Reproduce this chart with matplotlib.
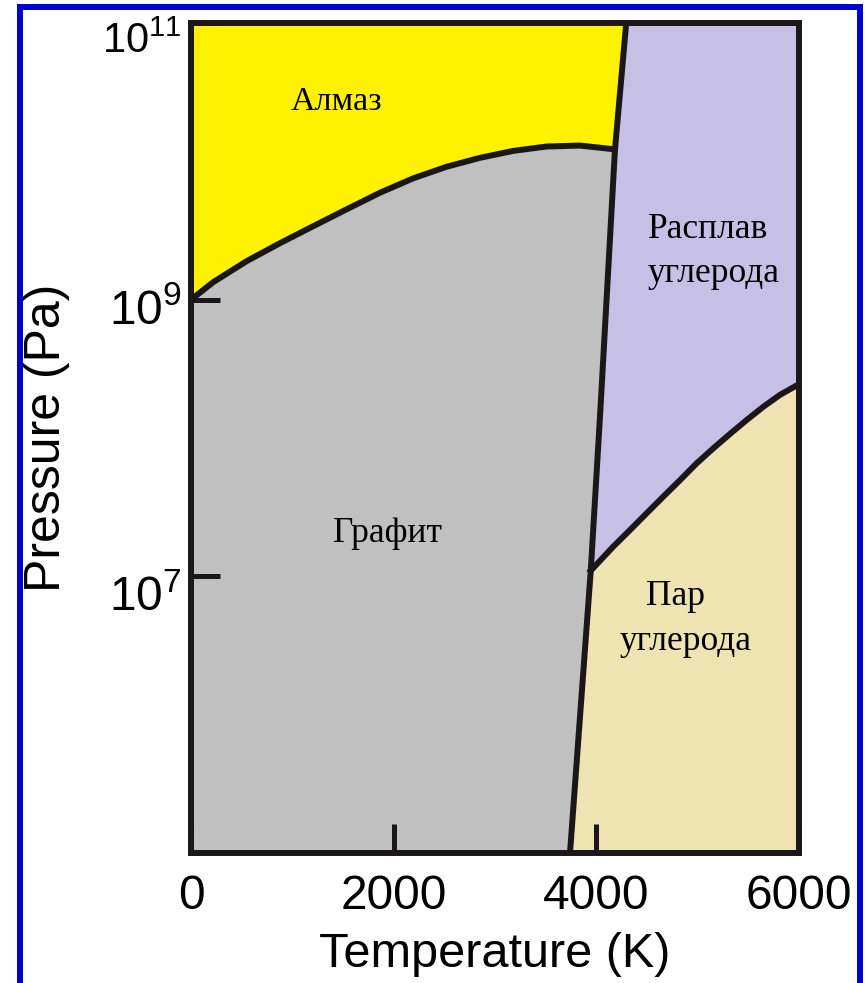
import numpy as np
import matplotlib.pyplot as plt
import matplotlib.transforms as mtransforms
from matplotlib.patches import Rectangle
from matplotlib.ticker import NullLocator

plt.rcParams['font.family'] = ['Liberation Sans', 'DejaVu Sans']

# Carbon phase boundaries: temperature (K), pressure (Pa)
# graphite / diamond line, from 0 K up to the triple point with the melt
gd_T = [0, 220, 550, 878, 1207, 1536, 1865, 2194, 2523, 2852, 3180, 3510, 3839, 4184]
gd_P = [1.0e9, 1.34e9, 1.90e9, 2.56e9, 3.40e9, 4.50e9, 5.93e9, 7.54e9, 9.14e9,
        1.06e10, 1.19e10, 1.28e10, 1.30e10, 1.22e10]

# melting line, bottom to top
melt_T = [3740, 3945, 4040, 4184, 4295]
melt_P = [1.0e5, 1.1e7, 1.6e8, 1.22e10, 1.0e11]

# liquid / vapour line, from the triple point to 6000 K
lv_T = [3945, 4167, 4332, 4497, 4661, 4826, 4990, 5154, 5319, 5484, 5647, 5812, 6000]
lv_P = [1.1e7, 1.64e7, 2.16e7, 2.86e7, 3.77e7, 4.96e7, 6.56e7, 8.42e7, 1.07e8,
        1.35e8, 1.68e8, 2.05e8, 2.45e8]

T_lim = (0, 6000)
P_lim = (1e5, 1e11)
T_ticks = [0, 2000, 4000, 6000]
P_ticks = [1e7, 1e9, 1e11]
P_labels = [r'$\mathregular{10^{7}}$', r'$\mathregular{10^{9}}$', r'$\mathregular{10^{11}}$']

dark = '#1b1718'
col_diamond = '#fff200'
col_graphite = '#c0c0c0'
col_liquid = '#c6bfe6'
col_vapour = '#efe3b1'

fig = plt.figure(figsize=(8.65, 9.83), dpi=100)
ax = fig.add_axes([191 / 865, 1 - 853 / 983, 608 / 865, 830 / 983])
ax.set_yscale('log')
ax.set_xlim(*T_lim)
ax.set_ylim(*P_lim)

# phase regions
ax.fill([T_lim[0]] + gd_T + melt_T[4:], [P_lim[1]] + gd_P + melt_P[4:],
        color=col_diamond, lw=0, zorder=1)
ax.fill(gd_T + melt_T[2::-1] + [T_lim[0]], gd_P + melt_P[2::-1] + [P_lim[0]],
        color=col_graphite, lw=0, zorder=1)
ax.fill(melt_T[:0:-1] + lv_T[1:] + [T_lim[1]], melt_P[:0:-1] + lv_P[1:] + [P_lim[1]],
        color=col_liquid, lw=0, zorder=1)
ax.fill(lv_T + [T_lim[1], melt_T[0]], lv_P + [P_lim[0], melt_P[0]],
        color=col_vapour, lw=0, zorder=1)

# boundary lines
for xs, ys in [(gd_T, gd_P), (melt_T, melt_P), (lv_T, lv_P)]:
    ax.plot(xs, ys, color=dark, lw=4.3, solid_joinstyle='round', zorder=2)

# region names
serif = ['Liberation Serif', 'DejaVu Serif']
ax.text(1431, 2.35e10, 'Алмаз', family=serif, fontsize=24.5, ha='center', va='baseline')
ax.text(1944, 1.77e7, 'Графит', family=serif, fontsize=25.5, ha='center', va='baseline')
ax.text(4510, 2.79e9, 'Расплав', family=serif, fontsize=25.5, ha='left', va='baseline')
ax.text(4510, 1.34e9, 'углерода', family=serif, fontsize=25.5, ha='left', va='baseline')
ax.text(4786, 6.2e6, 'Пар', family=serif, fontsize=25.5, ha='center', va='baseline')
ax.text(4885, 2.93e6, 'углерода', family=serif, fontsize=25.5, ha='center', va='baseline')

# axes frame and ticks
for s in ax.spines.values():
    s.set_linewidth(4.3)
    s.set_color(dark)
ax.set_xticks(T_ticks, labels=[str(t) for t in T_ticks])
ax.set_yticks(P_ticks, labels=P_labels)
ax.yaxis.set_minor_locator(NullLocator())
ax.tick_params(direction='in', length=21, width=3.6, color=dark, labelsize=34.5)
ax.tick_params(axis='x', pad=15)
ax.tick_params(axis='y', pad=6.5)

# the exponent labels sit a little below their ticks
y_shift_px = [17, 6, 14]
for tick, dy in zip(ax.yaxis.get_major_ticks(), y_shift_px):
    off = mtransforms.ScaledTranslation(0, -dy / 100, fig.dpi_scale_trans)
    tick.label1.set_transform(tick.label1.get_transform() + off)
ax.yaxis.get_major_ticks()[2].label1.set_fontsize(30)

ax.set_xlabel('Temperature (K)', fontsize=35)
ax.set_ylabel('Pressure (Pa)', fontsize=36)
ax.xaxis.set_label_coords(0.5, -0.0952)
ax.yaxis.set_label_coords(-0.199, 0.5)

# blue frame round the figure
fig.patches.append(Rectangle((20 / 865, -0.05), (859.5 - 20) / 865, 1.05 - 7 / 983,
                             transform=fig.transFigure, fill=False,
                             edgecolor='#0000d0', linewidth=4.3))

fig.savefig('out.png', dpi=100)
